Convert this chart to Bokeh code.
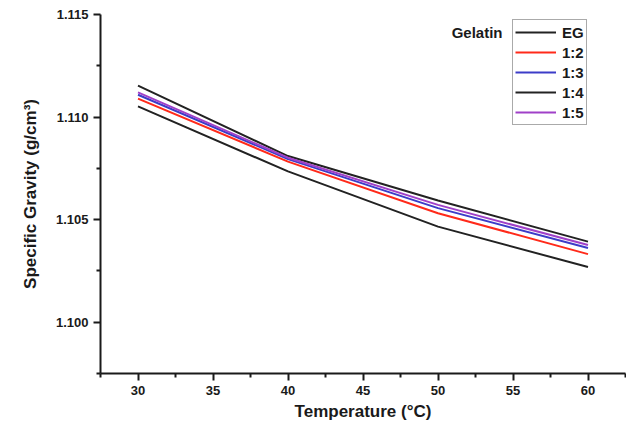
from bokeh.plotting import figure
from bokeh.models import Range1d, Legend, LegendItem, Label, FixedTicker, NumeralTickFormatter
from bokeh.embed import file_html
from bokeh.resources import INLINE

temperature = [30, 40, 50, 60]
series_names = ["EG", "1:2", "1:3", "1:4", "1:5"]
sg_eg = [1.11153, 1.10810, 1.10593, 1.10393]
sg_12 = [1.11090, 1.10783, 1.10531, 1.10332]
sg_13 = [1.11109, 1.10795, 1.10556, 1.10362]
sg_14 = [1.11052, 1.10735, 1.10466, 1.10269]
sg_15 = [1.11120, 1.10802, 1.10572, 1.10376]
series_values = [sg_eg, sg_12, sg_13, sg_14, sg_15]
series_colors = ["#222222", "#ff2a1a", "#3c3cc8", "#222222", "#a040c8"]
x_ticks = [30, 35, 40, 45, 50, 55, 60]
y_ticks = [1.100, 1.105, 1.110, 1.115]

FONT = "Liberation Sans"

p = figure(width=626, height=429, output_backend="svg", toolbar_location=None,
           x_range=Range1d(27.5, 62.5), y_range=Range1d(1.0975, 1.115),
           min_border_left=100, min_border_right=1, min_border_top=14, min_border_bottom=56)
p.outline_line_color = None
p.xgrid.grid_line_color = None
p.ygrid.grid_line_color = None
p.background_fill_color = "white"
p.border_fill_color = "white"

renderers = []
for vals, col in zip(series_values, series_colors):
    r = p.line(temperature, vals, line_color=col, line_width=2)
    renderers.append(r)

for ax in (p.xaxis[0], p.yaxis[0]):
    ax.axis_line_color = "#1a1a1a"
    ax.axis_line_width = 2
    ax.major_tick_line_color = "#1a1a1a"
    ax.major_tick_line_width = 2
    ax.minor_tick_line_color = "#1a1a1a"
    ax.minor_tick_line_width = 2
    ax.major_tick_in = 0
    ax.major_tick_out = 7
    ax.minor_tick_in = 0
    ax.minor_tick_out = 4
    ax.major_label_text_font = FONT
    ax.major_label_text_font_style = "bold"
    ax.major_label_text_font_size = "13px"
    ax.major_label_text_color = "#1a1a1a"
    ax.axis_label_text_font = FONT
    ax.axis_label_text_font_style = "bold"
    ax.axis_label_text_font_size = "17px"
    ax.axis_label_text_color = "#1a1a1a"

p.xaxis[0].ticker = FixedTicker(ticks=x_ticks, minor_ticks=[27.5, 32.5, 37.5, 42.5, 47.5, 52.5, 57.5, 62.5])
p.yaxis[0].ticker = FixedTicker(ticks=y_ticks, minor_ticks=[1.0975, 1.1025, 1.1075, 1.1125])
p.yaxis[0].formatter = NumeralTickFormatter(format="0.000")
p.xaxis[0].axis_label = "Temperature (°C)"
p.yaxis[0].axis_label = "Specific Gravity (g/cm³)"
p.xaxis[0].major_label_standoff = 5
p.xaxis[0].axis_label_standoff = 4
p.yaxis[0].major_label_standoff = 5
p.yaxis[0].axis_label_standoff = 13

legend = Legend(items=[LegendItem(label=n, renderers=[r]) for n, r in zip(series_names, renderers)],
                location=(412, 248))
legend.border_line_color = "#555555"
legend.border_line_width = 1
legend.background_fill_alpha = 0
legend.padding = 2
legend.spacing = 0
legend.margin = 0
legend.glyph_width = 41
legend.glyph_height = 20
legend.label_height = 20
legend.label_standoff = 6
legend.label_text_font = FONT
legend.label_text_font_style = "bold"
legend.label_text_font_size = "15px"
legend.label_text_color = "#1a1a1a"
p.add_layout(legend, "center")

p.add_layout(Label(x=54.3, y=1.11412, text="Gelatin", text_align="right", text_baseline="middle",
                   text_font=FONT, text_font_style="bold", text_font_size="15px", text_color="#1a1a1a"))

open("out.html", "w").write(file_html(p, INLINE))
